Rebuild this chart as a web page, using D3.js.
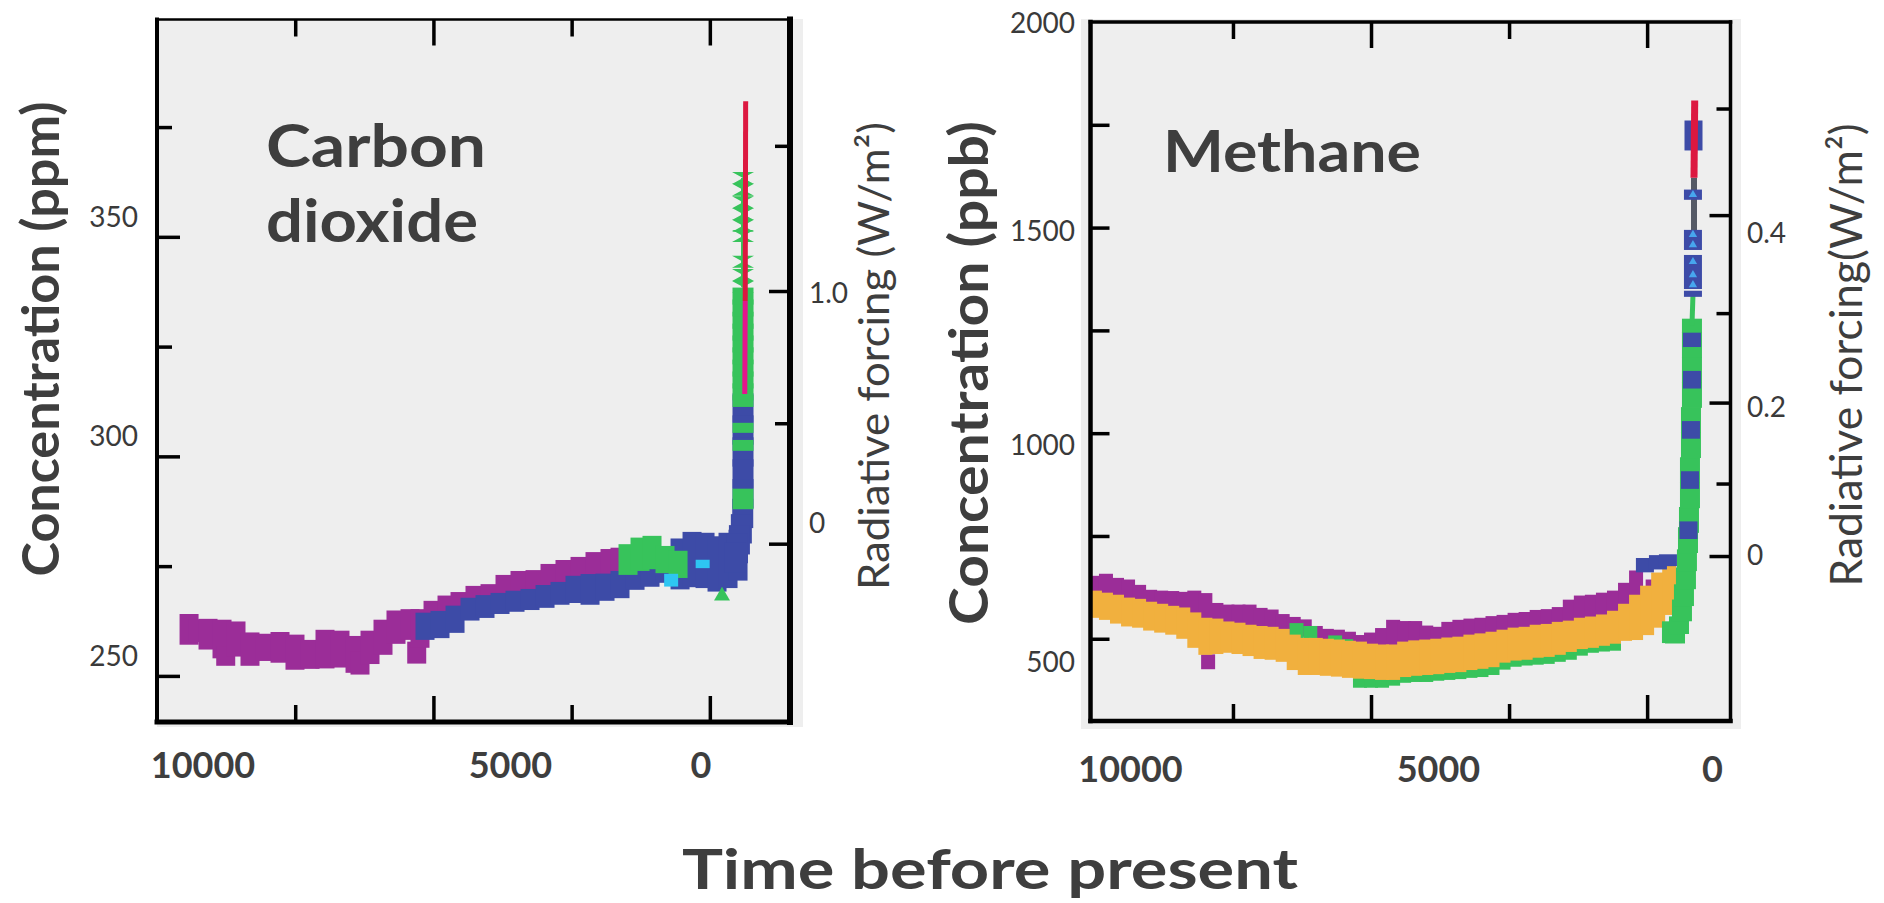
<!DOCTYPE html>
<html>
<head>
<meta charset="utf-8">
<script src="https://cdn.jsdelivr.net/npm/d3@7"></script>
<style>
  body { margin: 0; background: #ffffff; }
  svg text { font-family: Lato, "Open Sans", "DejaVu Sans", sans-serif; }
</style>
</head>
<body>
<svg id="chart" width="1884" height="903"></svg>
<script>
// ======================= DATA =======================
// time axis (years before present)
const timeTickLabels = ["10000", "5000", "0"];
const timeTickLabelValues = [10000, 5000, 0];
const timeMajorTicks = [5000, 0];
const timeMinorTicks = [7500, 2500];

// CO2 axis
const co2MajorTicks = [250, 300, 350];
const co2MinorTicks = [275, 325, 375];
const co2TickLabels = [250, 300, 350];
const co2ForcingMajor = [0, 1.0];
const co2ForcingMinor = [0.5, 1.5];
const co2ForcingLabels = [0, 1.0];

// CH4 axis
const ch4Ticks = [500, 750, 1000, 1250, 1500, 1750];
const ch4TickLabels = [500, 1000, 1500, 2000];
const ch4ForcingMajor = [0, 0.2, 0.4];
const ch4ForcingMinor = [0.1, 0.3, 0.5];
const ch4ForcingLabels = [0, 0.2, 0.4];

// CO2 series: [years before present, ppm, half range]
const co2Purple = [
  [9420, 260.6, 2.7], [9250, 260.3, 1.8], [9077, 259.5, 2.7], [8824, 258.4, 3.6],
  [8757, 254.5, 1.4], [8571, 258.4, 3.2], [8318, 256.1, 3.0], [8046, 256.5, 2.3],
  [7775, 256.5, 2.7], [7504, 255.4, 3.2], [7232, 254.9, 2.5], [6961, 256.1, 3.6],
  [6690, 256.1, 3.4], [6418, 254.9, 3.4], [6328, 252.9, 1.8], [6147, 256.5, 3.0],
  [5912, 258.8, 3.2], [5677, 261.1, 3.0], [5423, 261.7, 2.7], [5302, 255.3, 1.7],
  [5243, 260.8, 3.6], [5007, 264.7, 1.6], [4754, 265.2, 2.3], [4519, 266.3, 2.0],
  [4248, 267.9, 1.8], [3976, 268.3, 1.8], [3705, 270.2, 2.0], [3434, 270.8, 2.3],
  [3162, 271.3, 2.0], [2891, 272.4, 2.3], [2620, 273.8, 1.8], [2348, 274.7, 1.6],
  [2077, 275.4, 2.0], [1806, 275.8, 2.3], [1625, 276.1, 2.3]
];
const co2Blue = [
  [5152, 261.3, 2.3], [4881, 261.7, 2.3], [4609, 262.9, 2.3], [4338, 265.2, 1.8],
  [4067, 265.8, 1.8], [3795, 266.5, 1.6], [3524, 267.0, 1.6], [3253, 267.4, 1.6],
  [2981, 268.1, 1.8], [2710, 268.8, 1.8], [2439, 269.7, 2.3], [2167, 269.7, 2.7],
  [1896, 270.2, 2.3], [1625, 270.8, 2.3], [1353, 273.1, 2.7], [1082, 273.8, 2.7],
  [811, 274.7, 2.7], [539, 275.5, 5.0], [322, 276.5, 5.5], [87, 276.3, 5.5],
  [-130, 275.5, 5.5], [-329, 276.3, 5.5], [-510, 277.5, 5.0]
];
const co2Green = [
  [1480, 276.5, 2.7], [1263, 277.7, 3.0], [1046, 278.1, 3.0], [811, 276.5, 2.3], [575, 275.4, 2.3]
];
const co2Cyan = [[700, 271.8, 1.0], [130, 275.5, 0.5]];
const co2GreenTriangles = [[-220, 268.2]];
const co2SpikeBlue = [
  [-600, 311.0, 3.0], [-600, 306.0, 3.0], [-600, 301.0, 3.0], [-600, 296.0, 3.0],
  [-600, 291.5, 3.0], [-595, 287.0, 3.0], [-570, 283.5, 3.0], [-535, 281.0, 3.0],
  [-500, 279.0, 3.0], [-460, 277.0, 3.0]
];
const co2SpikeGreen = [
  [-600, 290.3, 2.0], [-600, 302.5, 0.9], [-600, 306.5, 0.8], [-600, 312.6, 1.0],
  [-600, 314.7, 1.6], [-600, 317.4, 1.6], [-600, 320.1, 1.6], [-600, 322.9, 1.6],
  [-600, 325.6, 1.6], [-600, 328.3, 1.6], [-600, 331.0, 1.6], [-600, 333.8, 1.6],
  [-600, 336.5, 1.6]
];
const co2SpikeMarkers = [
  [-600, 338.6], [-600, 341.3], [-600, 344.3], [-600, 350.2], [-600, 352.5],
  [-600, 355.2], [-600, 357.9], [-600, 360.7], [-600, 363.4]
];
const co2InstrumentalEarly = [[-632, 314.2], [-640, 335.4]];
const co2Instrumental = [[-640, 335.4], [-648, 380.9]];

// CH4 series: [years before present, ppb, half range]
const ch4Purple = [
  [10000, 625, 22], [9800, 628, 24], [9600, 620, 22], [9400, 616, 22], [9200, 606, 19],
  [9000, 596, 17], [8800, 594, 17], [8600, 591, 19], [8400, 586, 22], [8200, 582, 29],
  [8000, 572, 33], [7800, 557, 24], [7600, 550, 27], [7400, 550, 27], [7200, 550, 27],
  [7000, 545, 24], [6800, 543, 22], [6600, 535, 19], [6400, 530, 17], [6200, 526, 15],
  [6000, 513, 12], [5800, 506, 12], [5600, 504, 12], [5400, 496, 15], [5200, 491, 12],
  [5000, 494, 15], [4800, 501, 19], [4600, 511, 29], [4400, 513, 24], [4200, 513, 24],
  [4000, 509, 17], [3800, 506, 17], [3600, 513, 22], [3400, 518, 22], [3200, 521, 22],
  [3000, 523, 22], [2800, 530, 19], [2600, 533, 19], [2400, 538, 19], [2200, 540, 19],
  [2000, 545, 19], [1800, 547, 19], [1600, 552, 19], [1400, 565, 24], [1200, 572, 27],
  [1000, 574, 27], [800, 579, 27], [600, 584, 27], [400, 601, 29], [200, 633, 27],
  [-100, 623, 15], [7950, 444, 12]
];
const ch4Orange = [
  [10000, 584, 27], [9800, 579, 27], [9600, 572, 29], [9400, 565, 29], [9200, 562, 29],
  [9000, 555, 29], [8800, 550, 29], [8600, 545, 29], [8400, 538, 32], [8200, 521, 37],
  [8000, 506, 39], [7800, 506, 37], [7600, 504, 32], [7400, 501, 32], [7200, 496, 32],
  [7000, 491, 34], [6800, 489, 34], [6600, 484, 34], [6400, 467, 37], [6200, 457, 39],
  [6000, 457, 39], [5800, 455, 39], [5600, 453, 39], [5400, 450, 39], [5200, 448, 39],
  [5000, 445, 37], [4800, 443, 37], [4600, 443, 37], [4400, 450, 37], [4200, 453, 37],
  [4000, 455, 37], [3800, 457, 37], [3600, 460, 37], [3400, 462, 37], [3200, 467, 37],
  [3000, 470, 37], [2800, 474, 37], [2600, 482, 34], [2400, 487, 34], [2200, 489, 34],
  [2000, 494, 34], [1800, 496, 34], [1600, 501, 34], [1400, 506, 32], [1200, 513, 32],
  [1000, 516, 32], [800, 521, 32], [600, 528, 34], [400, 540, 39], [200, 552, 49],
  [0, 569, 54], [-200, 594, 61], [-400, 618, 54]
];
const ch4Green = [
  [6350, 520, 12], [6100, 515, 10], [5650, 492, 10], [5450, 485, 8],
  [5200, 399, 12], [5000, 399, 12], [4800, 399, 12], [4600, 404, 12], [4400, 409, 10],
  [4200, 411, 10], [4000, 411, 10], [3800, 414, 10], [3600, 416, 10], [3400, 418, 10],
  [3200, 421, 10], [3000, 423, 10], [2800, 428, 10], [2600, 443, 12], [2400, 450, 12],
  [2200, 453, 12], [2000, 455, 12], [1800, 457, 12], [1600, 462, 12], [1400, 467, 12],
  [1200, 477, 12], [1000, 484, 12], [800, 487, 12], [600, 489, 12]
];
const ch4SpikeGreen = [
  [-450, 516, 24], [-505, 506, 15], [-577, 533, 19], [-631, 569, 24], [-667, 606, 24],
  [-703, 647, 24], [-721, 691, 24], [-740, 740, 29], [-758, 789, 29], [-776, 849, 29],
  [-776, 910, 29], [-794, 971, 29], [-794, 1032, 29], [-812, 1093, 29], [-812, 1154, 29],
  [-812, 1215, 29], [-812, 1261, 15]
];
const ch4SpikeGreenLine = [[-812, 1261], [-830, 1335]];
const ch4Blue = [
  [40, 679, 15], [-196, 686, 15], [-377, 691, 12],
  [-749, 764, 19], [-776, 886, 19], [-794, 1008, 19], [-812, 1130, 19], [-812, 1227, 15],
  [-830, 1339, 5], [-830, 1392, 39], [-830, 1470, 22], [-830, 1580, 10], [-840, 1724, 34]
];
const ch4LightBlueTriangles = [[-830, 1580], [-830, 1483], [-830, 1458], [-830, 1417], [-830, 1385], [-830, 1361]];
const ch4GrayLine = [[-849, 1492], [-849, 1621]];
const ch4Instrumental = [[-849, 1621], [-862, 1809]];

// ======================= LAYOUT / STYLE =======================
const C = {
  purple: "#9b2d98", blue: "#3d4ba7", green: "#37c35b", cyan: "#2ec6f2",
  orange: "#f1b03e", red: "#dc1840", pink: "#e4168c", gray: "#555a66",
  bg: "#eeeeee", ink: "#3e3e3e", tick: "#3a3a3a"
};
const layout = {
  co2: {
    frame: { x0: 157, x1: 790, y0: 19.5, y1: 722 },
    bg: { x0: 157, x1: 803, y0: 19, y1: 727 },
    xDomain: [10000, -1450], yDomain: [239.5, 399.5],
    labelRange: [203, 510.5, 701], labelBaseline: 778,
    yLabelX: 138, yLabelDy: { 250: -21, 300: -21, 350: -21 },
    rLabelX: 809, rLabelDy: { 0: -22, 1: 0 },
    frameW: { l: 4, t: 2.5, r: 6, b: 5 },
    markerPad: 3.5
  },
  ch4: {
    frame: { x0: 1090.5, x1: 1730.5, y0: 22, y1: 721 },
    bg: { x0: 1081, x1: 1741, y0: 19, y1: 729 },
    xDomain: [10080, -1510], yDomain: [300, 2000],
    labelRange: [1130.5, 1438.5, 1712.5], labelBaseline: 782,
    yLabelX: 1075, yLabelDy: { 500: 22, 1000: 11, 1500: 2, 2000: 0 },
    rLabelX: 1747, rLabelDy: { 0: -3, 0.2: 3, 0.4: 16 },
    frameW: { l: 4.5, t: 3.5, r: 3.5, b: 4.5 },
    markerPad: 2.5
  }
};

const svg = d3.select("#chart");

// ======================= HELPERS =======================
function blocks(g, data, x, y, color, w, pad) {
  pad = pad || 0;
  g.append("g").selectAll("rect").data(data).join("rect")
    .attr("x", d => x(d[0]) - w / 2)
    .attr("y", d => y(d[1] + d[2]) - pad)
    .attr("width", w)
    .attr("height", d => Math.max(3, y(d[1] - d[2]) - y(d[1] + d[2]) + 2 * pad))
    .attr("fill", color);
}
function line(g, data, x, y, color, width) {
  g.append("path").datum(data)
    .attr("d", d3.line().x(d => x(d[0])).y(d => y(d[1])))
    .attr("fill", "none").attr("stroke", color).attr("stroke-width", width);
}
function background(g, L) {
  const b = L.bg;
  g.append("rect").attr("x", b.x0).attr("y", b.y0).attr("width", b.x1 - b.x0).attr("height", b.y1 - b.y0).attr("fill", C.bg);
}
function frameLines(g, L) {
  const f = L.frame, w = L.frameW;
  const segs = [
    [f.x0, f.y0, f.x0, f.y1, w.l], [f.x0, f.y0, f.x1, f.y0, w.t],
    [f.x1, f.y0, f.x1, f.y1, w.r], [f.x0, f.y1, f.x1, f.y1, w.b]
  ];
  g.append("g").selectAll("line").data(segs).join("line")
    .attr("x1", d => d[0]).attr("y1", d => d[1]).attr("x2", d => d[2]).attr("y2", d => d[3])
    .attr("stroke", "#000").attr("stroke-width", d => d[4]).attr("stroke-linecap", "square");
}
function styleAxis(sel) {
  sel.select(".domain").remove();
  sel.selectAll("line").attr("stroke", "#000").attr("stroke-width", 3.5);
}
function timeAxes(g, L, x) {
  const f = L.frame;
  [[timeMajorTicks, 26], [timeMinorTicks, 17]].forEach(([vals, len]) => {
    g.append("g").attr("transform", `translate(0,${f.y0})`)
      .call(d3.axisBottom(x).tickValues(vals).tickSize(len).tickFormat("")).call(styleAxis);
    g.append("g").attr("transform", `translate(0,${f.y1})`)
      .call(d3.axisTop(x).tickValues(vals).tickSize(len).tickFormat("")).call(styleAxis);
  });
  const labelX = d3.scaleLinear().domain(timeTickLabelValues).range(L.labelRange);
  g.append("g").selectAll("text").data(timeTickLabels).join("text")
    .attr("x", (d, i) => labelX(timeTickLabelValues[i]))
    .attr("y", L.labelBaseline)
    .attr("text-anchor", "middle")
    .attr("font-size", 36).attr("font-weight", 700).attr("fill", C.ink)
    .text(d => d);
}
function forcingTicks(g, L, vals, len, yOf) {
  g.append("g").selectAll("line").data(vals).join("line")
    .attr("x1", L.frame.x1 - len).attr("x2", L.frame.x1)
    .attr("y1", d => yOf(d)).attr("y2", d => yOf(d))
    .attr("stroke", "#000").attr("stroke-width", 3.5);
}
function rotLabel(g, text, x, cy, size, weight, len) {
  return g.append("text")
    .attr("transform", `translate(${x},${cy}) rotate(-90)`)
    .attr("text-anchor", "middle")
    .attr("font-size", size).attr("font-weight", weight).attr("fill", C.ink)
    .attr("textLength", len).attr("lengthAdjust", "spacingAndGlyphs")
    .text(text);
}

// ======================= CO2 PANEL =======================
(function () {
  const L = layout.co2, f = L.frame, p = L.markerPad;
  const g = svg.append("g");
  const x = d3.scaleLinear().domain(L.xDomain).range([f.x0, f.x1]);
  const y = d3.scaleLinear().domain(L.yDomain).range([f.y1, f.y0]);
  const rfY = rf => y(280 * Math.exp(rf / 5.35));   // ΔF = 5.35 ln(C/C0)

  background(g, L);
  g.append("clipPath").attr("id", "clipCO2").append("rect")
    .attr("x", f.x0).attr("y", f.y0).attr("width", f.x1 - f.x0).attr("height", f.y1 - f.y0);
  const d = g.append("g").attr("clip-path", "url(#clipCO2)");

  blocks(d, co2Purple, x, y, C.purple, 19, p);
  blocks(d, co2Blue, x, y, C.blue, 19, p);
  blocks(d, co2Green, x, y, C.green, 19, p);
  blocks(d, co2Cyan, x, y, C.cyan, 14, 2);
  d.append("g").selectAll("path").data(co2GreenTriangles).join("path")
    .attr("transform", q => `translate(${x(q[0])},${y(q[1])})`)
    .attr("d", d3.symbol(d3.symbolTriangle, 110)).attr("fill", C.green);
  blocks(d, co2SpikeBlue, x, y, C.blue, 21, 1.5);
  blocks(d, co2SpikeGreen, x, y, C.green, 21, 1.5);
  line(d, [co2SpikeMarkers[0], co2SpikeMarkers[co2SpikeMarkers.length - 1]], x, y, C.green, 4);
  d.append("g").selectAll("path").data(co2SpikeMarkers).join("path")
    .attr("transform", q => `translate(${x(q[0])},${y(q[1])})`)
    .attr("d", "M-11,-6 L11,-6 L0,0 L11,6 L-11,6 L0,0 Z")
    .attr("fill", C.green);
  line(d, co2InstrumentalEarly, x, y, C.pink, 5);
  line(d, co2Instrumental, x, y, C.red, 5);

  // left axis ticks (inward)
  g.append("g").attr("transform", `translate(${f.x0},0)`)
    .call(d3.axisRight(y).tickValues(co2MajorTicks).tickSize(23).tickFormat("")).call(styleAxis);
  g.append("g").attr("transform", `translate(${f.x0},0)`)
    .call(d3.axisRight(y).tickValues(co2MinorTicks).tickSize(15).tickFormat("")).call(styleAxis);
  g.append("g").selectAll("text").data(co2TickLabels).join("text")
    .attr("x", L.yLabelX).attr("y", v => y(v) + L.yLabelDy[v])
    .attr("dominant-baseline", "central").attr("text-anchor", "end")
    .attr("font-size", 28).attr("fill", C.tick).text(v => v);

  // right forcing axis
  forcingTicks(g, L, co2ForcingMajor, 21, rfY);
  forcingTicks(g, L, co2ForcingMinor, 15, rfY);
  g.append("g").selectAll("text").data(co2ForcingLabels).join("text")
    .attr("x", L.rLabelX).attr("y", v => rfY(v) + L.rLabelDy[v])
    .attr("dominant-baseline", "central")
    .attr("font-size", 28).attr("fill", C.tick).text(v => v === 0 ? "0" : v.toFixed(1));

  timeAxes(g, L, x);
  frameLines(g, L);

  const t = g.append("g").attr("font-weight", 700).attr("fill", C.ink).attr("font-size", 60);
  t.append("text").attr("x", 266).attr("y", 167).attr("textLength", 220).attr("lengthAdjust", "spacingAndGlyphs").text("Carbon");
  t.append("text").attr("x", 266).attr("y", 242).attr("textLength", 212).attr("lengthAdjust", "spacingAndGlyphs").text("dioxide");

  rotLabel(g, "Concentration (ppm)", 59, 339, 51, 700, 475);
  rotLabel(g, "Radiative forcing (W/m²)", 889, 356, 43, 400, 468);
})();

// ======================= CH4 PANEL =======================
(function () {
  const L = layout.ch4, f = L.frame, p = L.markerPad;
  const g = svg.append("g");
  const x = d3.scaleLinear().domain(L.xDomain).range([f.x0, f.x1]);
  const y = d3.scaleLinear().domain(L.yDomain).range([f.y1, f.y0]);

  // IPCC simplified CH4 forcing (with N2O overlap), M0 = 700 ppb, N0 = 270 ppb
  const ov = (M, N) => 0.47 * Math.log(1 + 2.01e-5 * Math.pow(M * N, 0.75) + 5.31e-15 * M * Math.pow(M * N, 1.52));
  const rfOf = M => 0.036 * (Math.sqrt(M) - Math.sqrt(700)) - (ov(M, 270) - ov(700, 270));
  const concOf = rf => { let lo = 300, hi = 2500; for (let i = 0; i < 60; i++) { const m = (lo + hi) / 2; if (rfOf(m) < rf) lo = m; else hi = m; } return (lo + hi) / 2; };
  const rfY = rf => y(concOf(rf));

  background(g, L);
  g.append("clipPath").attr("id", "clipCH4").append("rect")
    .attr("x", f.x0).attr("y", f.y0).attr("width", f.x1 - f.x0).attr("height", f.y1 - f.y0);
  const d = g.append("g").attr("clip-path", "url(#clipCH4)");

  blocks(d, ch4Purple, x, y, C.purple, 14, p);
  blocks(d, ch4Green, x, y, C.green, 14, p);
  blocks(d, ch4Orange, x, y, C.orange, 14, p);
  blocks(d, ch4SpikeGreen, x, y, C.green, 20, 1);
  line(d, ch4SpikeGreenLine, x, y, C.green, 5);
  line(d, ch4GrayLine, x, y, C.gray, 6);
  blocks(d, ch4Blue, x, y, C.blue, 18, 1);
  d.append("g").selectAll("path").data(ch4LightBlueTriangles).join("path")
    .attr("transform", q => `translate(${x(q[0])},${y(q[1])})`)
    .attr("d", d3.symbol(d3.symbolTriangle, 30)).attr("fill", "#47a6ee");
  line(d, ch4Instrumental, x, y, C.red, 7);

  g.append("g").attr("transform", `translate(${f.x0},0)`)
    .call(d3.axisRight(y).tickValues(ch4Ticks).tickSize(19).tickFormat("")).call(styleAxis);
  g.append("g").selectAll("text").data(ch4TickLabels).join("text")
    .attr("x", L.yLabelX).attr("y", v => y(v) + L.yLabelDy[v])
    .attr("dominant-baseline", "central").attr("text-anchor", "end")
    .attr("font-size", 28).attr("fill", C.tick).text(v => v);

  forcingTicks(g, L, ch4ForcingMajor, 21, rfY);
  forcingTicks(g, L, ch4ForcingMinor, 14, rfY);
  g.append("g").selectAll("text").data(ch4ForcingLabels).join("text")
    .attr("x", L.rLabelX).attr("y", v => rfY(v) + L.rLabelDy[v])
    .attr("dominant-baseline", "central")
    .attr("font-size", 28).attr("fill", C.tick).text(v => v === 0 ? "0" : v.toFixed(1));

  timeAxes(g, L, x);
  frameLines(g, L);

  g.append("text").attr("x", 1163).attr("y", 172)
    .attr("font-size", 57).attr("font-weight", 700).attr("fill", C.ink)
    .attr("textLength", 258).attr("lengthAdjust", "spacingAndGlyphs").text("Methane");

  rotLabel(g, "Concentration (ppb)", 988, 373, 54, 700, 504);
  rotLabel(g, "Radiative forcing(W/m²)", 1862, 355, 44, 400, 463);
})();

// ======================= SHARED AXIS TITLE =======================
svg.append("text").attr("x", 682).attr("y", 889)
  .attr("font-size", 56).attr("font-weight", 700).attr("fill", C.ink)
  .attr("textLength", 616).attr("lengthAdjust", "spacingAndGlyphs")
  .text("Time before present");
</script>
</body>
</html>
